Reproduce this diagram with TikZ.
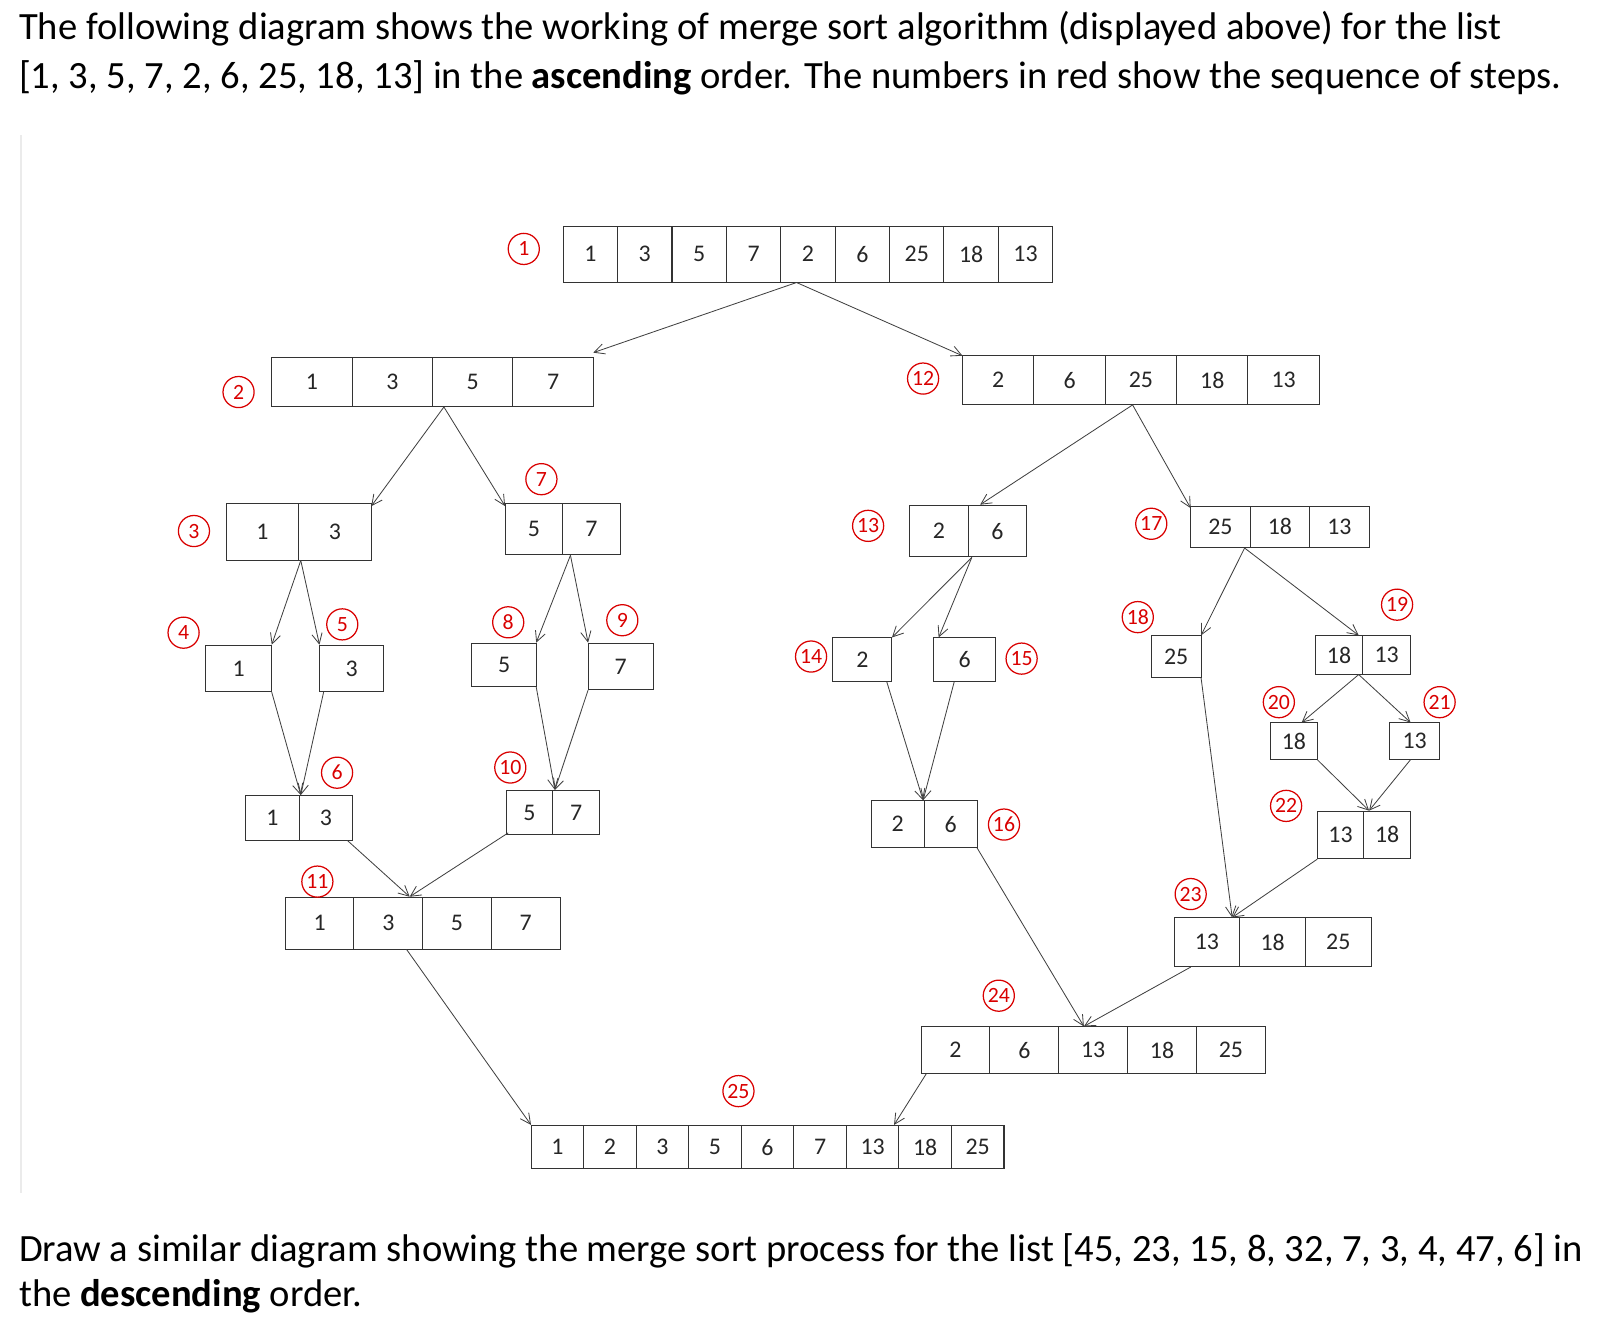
\documentclass[tikz,border=0pt]{standalone}
\usepackage{fontspec}
\setmainfont{Carlito}
\usetikzlibrary{fit,arrows.meta}
\tikzset{
  x=0.5pt,y=-0.5pt,
  box/.style={draw=black!80,line width=0.5pt},
  cell/.style={font=\fontsize{11.5}{12}\selectfont,text=black!85,inner sep=0},
  lab/.style={circle,draw=red!85!black,text=red!85!black,line width=0.6pt,inner sep=0,minimum size=15pt,font=\fontsize{10.5}{11}\selectfont},
  arr/.style={draw=black!75,line width=0.4pt,-{Straight Barb[length=5pt,width=5pt]}},
  txt/.style={anchor=base west,inner sep=0,font=\fontsize{18.6}{22}\selectfont},
}
\newcommand\arr[7]{%
  \draw[box] (#2,#4) rectangle (#3,#5);
  \coordinate (#1-nw) at (#2,#4); \coordinate (#1-se) at (#3,#5);
  \node[fit=(#1-nw)(#1-se),inner sep=0] (#1) {};
  \foreach \v [count=\i] in {#7} {
    \pgfmathsetmacro\xa{#2+(\i-0.5)*(#3-#2)/#6}
    \pgfmathsetmacro\xb{#2+\i*(#3-#2)/#6}
    \node[cell] at (\xa,{(#4+#5)/2}) {\v};
    \ifnum\i<#6 \draw[box] (\xb,#4) -- (\xb,#5); \fi
  }%
}
\begin{document}
\begin{tikzpicture}
\useasboundingbox (0,0) rectangle (1560,1273);
\node[txt] (t1) at (18,38) {The following diagram shows the working of merge sort algorithm (displayed above) for the list};
\node[txt] (t2) at (18,85) {[1, 3, 5, 7, 2, 6, 25, 18, 13] in the \textbf{ascending} order. The numbers in red show the sequence of steps.};
\node[txt] (t3) at (18,1216) {Draw a similar diagram showing the merge sort process for the list [45, 23, 15, 8, 32, 7, 3, 4, 47, 6] in};
\node[txt] (t4) at (18,1260) {the \textbf{descending} order.};
\draw[black!8,line width=1pt] (20,130) -- (20,1150);

\arr{a1}{543}{1015}{218}{272}{9}{1,3,5,7,2,6,25,18,13}
\arr{a2}{262}{572}{345}{392}{4}{1,3,5,7}
\arr{a12}{928}{1272}{343}{390}{5}{2,6,25,18,13}
\arr{a3}{218}{358}{485}{540}{2}{1,3}
\arr{a7}{487}{598}{485}{535}{2}{5,7}
\arr{a13}{877}{990}{487}{537}{2}{2,6}
\arr{a17}{1148}{1320}{488}{528}{3}{25,18,13}
\arr{a4}{198}{262}{622}{667}{1}{1}
\arr{a5}{308}{370}{622}{667}{1}{3}
\arr{a8}{455}{517}{620}{662}{1}{5}
\arr{a9}{567}{630}{620}{665}{1}{7}
\arr{a14}{803}{860}{615}{657}{1}{2}
\arr{a15}{900}{960}{615}{657}{1}{6}
\arr{a18}{1110}{1158}{613}{653}{1}{25}
\arr{a19}{1268}{1360}{613}{650}{2}{18,13}
\arr{a20}{1225}{1270}{697}{732}{1}{18}
\arr{a21}{1340}{1388}{697}{732}{1}{13}
\arr{a6}{237}{340}{767}{810}{2}{1,3}
\arr{a10}{488}{578}{762}{805}{2}{5,7}
\arr{a16}{840}{942}{772}{817}{2}{2,6}
\arr{a22}{1270}{1360}{782}{828}{2}{13,18}
\arr{a11}{275}{540}{865}{915}{4}{1,3,5,7}
\arr{a23}{1132}{1322}{885}{932}{3}{13,18,25}
\arr{a24}{888}{1220}{990}{1035}{5}{2,6,13,18,25}
\arr{a25}{512}{968}{1085}{1127}{9}{1,2,3,5,6,7,13,18,25}

\node[lab] (l1) at (505,240) {1};
\node[lab] (l2) at (230,378) {2};
\node[lab] (l3) at (187,512) {3};
\node[lab] (l4) at (177,610) {4};
\node[lab] (l5) at (330,602) {5};
\node[lab] (l6) at (325,745) {6};
\node[lab] (l7) at (522,462) {7};
\node[lab] (l8) at (490,600) {8};
\node[lab] (l9) at (600,598) {9};
\node[lab] (l10) at (492,740) {10};
\node[lab] (l11) at (306,850) {11};
\node[lab] (l12) at (890,365) {12};
\node[lab] (l13) at (837,507) {13};
\node[lab] (l14) at (782,633) {14};
\node[lab] (l15) at (985,635) {15};
\node[lab] (l16) at (968,795) {16};
\node[lab] (l17) at (1110,505) {17};
\node[lab] (l18) at (1097,595) {18};
\node[lab] (l19) at (1347,583) {19};
\node[lab] (l20) at (1233,677) {20};
\node[lab] (l21) at (1388,677) {21};
\node[lab] (l22) at (1240,777) {22};
\node[lab] (l23) at (1148,862) {23};
\node[lab] (l24) at (963,960) {24};
\node[lab] (l25) at (712,1052) {25};

\draw[arr] (768,0 |- a1.south) -- (572,340);
\draw[arr] (768,0 |- a1.south) -- (928,343);
\draw[arr] (428,0 |- a2.south) -- (358,488);
\draw[arr] (428,0 |- a2.south) -- (487,488);
\draw[arr] (290,0 |- a3.south) -- (262,0 |- a4.north);
\draw[arr] (290,0 |- a3.south) -- (308,0 |- a5.north);
\draw[arr] (550,0 |- a7.south) -- (517,0 |- a8.north);
\draw[arr] (550,0 |- a7.south) -- (567,0 |- a9.north);
\draw[arr] (1092,0 |- a12.south) -- (945,0 |- a13.north);
\draw[arr] (1092,0 |- a12.south) -- (1148,490);
\draw[arr] (937,0 |- a13.south) -- (860,0 |- a14.north);
\draw[arr] (937,0 |- a13.south) -- (905,0 |- a15.north);
\draw[arr] (1200,0 |- a17.south) -- (1158,0 |- a18.north);
\draw[arr] (1200,0 |- a17.south) -- (1310,0 |- a19.north);
\draw[arr] (1310,0 |- a19.south) -- (1255,0 |- a20.north);
\draw[arr] (1310,0 |- a19.south) -- (1360,0 |- a21.north);
\draw[arr] (262,0 |- a4.south) -- (290,0 |- a6.north);
\draw[arr] (312,0 |- a5.south) -- (290,0 |- a6.north);
\draw[arr] (517,0 |- a8.south) -- (535,0 |- a10.north);
\draw[arr] (567,0 |- a9.south) -- (535,0 |- a10.north);
\draw[arr] (855,0 |- a14.south) -- (890,0 |- a16.north);
\draw[arr] (920,0 |- a15.south) -- (890,0 |- a16.north);
\draw[arr] (1270,0 |- a20.south) -- (1320,0 |- a22.north);
\draw[arr] (1360,0 |- a21.south) -- (1320,0 |- a22.north);
\draw[arr] (335,0 |- a6.south) -- (395,0 |- a11.north);
\draw[arr] (490,803) -- (395,0 |- a11.north);
\draw[arr] (1158,0 |- a18.south) -- (1188,0 |- a23.north);
\draw[arr] (1270,0 |- a22.south) -- (1188,0 |- a23.north);
\draw[arr] (942,0 |- a16.south) -- (1045,0 |- a24.north);
\draw[arr] (1148,0 |- a23.south) -- (1045,0 |- a24.north);
\draw[arr] (392,0 |- a11.south) -- (512,0 |- a25.north);
\draw[arr] (893,0 |- a24.south) -- (862,0 |- a25.north);
\end{tikzpicture}
\end{document}
